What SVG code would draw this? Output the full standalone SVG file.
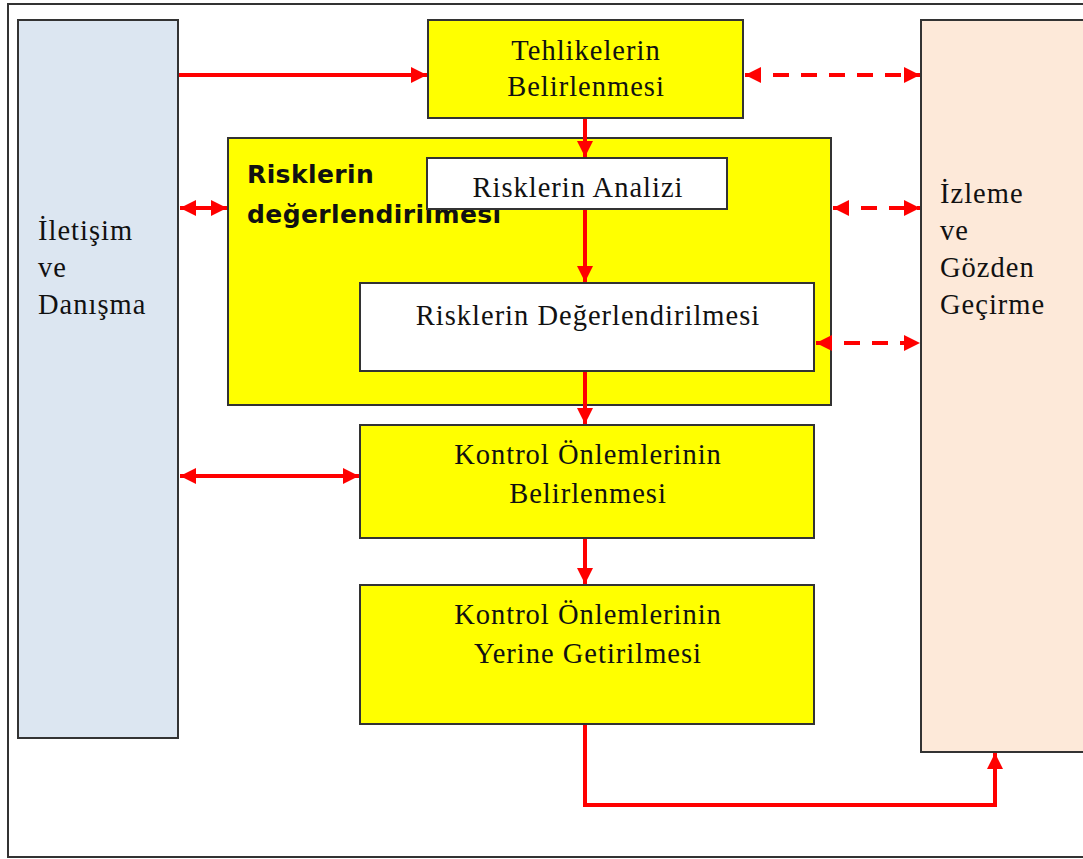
<svg xmlns="http://www.w3.org/2000/svg" width="1083" height="859" viewBox="0 0 1083 859">
<style>
.box{stroke:#333;stroke-width:2}
.y{fill:#ffff00}
.w{fill:#ffffff}
.t{font-family:"Liberation Serif",serif;font-size:28.5px;letter-spacing:1px;fill:#111}
.c{text-anchor:middle}
.h{font-family:"Comic Sans MS","DejaVu Sans",sans-serif;font-weight:bold;font-size:25px;letter-spacing:0.4px;fill:#111}
.a{stroke:#ff0000;stroke-width:4;fill:none}
.d{stroke-dasharray:16,12}
</style>
<defs>
<marker id="ah" viewBox="0 0 10 10" refX="10" refY="5" markerWidth="4" markerHeight="4" orient="auto-start-reverse" markerUnits="strokeWidth">
<path d="M0,0 L10,5 L0,10 z" fill="#ff0000"/>
</marker>
</defs>
<rect x="0" y="0" width="1083" height="859" fill="#fff"/>
<rect x="8" y="4" width="1080" height="853" fill="none" stroke="#333" stroke-width="2"/>
<g id="iletisim">
<rect class="box" x="18" y="20" width="160" height="718" fill="#dce6f1"/>
<text class="t" x="38" y="240">İletişim</text>
<text class="t" x="38" y="277">ve</text>
<text class="t" x="38" y="314">Danışma</text>
</g>
<g id="izleme">
<rect class="box" x="921" y="20" width="165" height="732" fill="#fde9d9"/>
<text class="t" x="940" y="203">İzleme</text>
<text class="t" x="940" y="240">ve</text>
<text class="t" x="940" y="277">Gözden</text>
<text class="t" x="940" y="314">Geçirme</text>
</g>
<g id="tehlike">
<rect class="box y" x="428" y="20" width="315" height="98"/>
<text class="t c" x="586" y="60">Tehlikelerin</text>
<text class="t c" x="586" y="96">Belirlenmesi</text>
</g>
<g id="degerlendirme">
<rect class="box y" x="228" y="138" width="603" height="267"/>
<text class="h" x="247" y="183">Risklerin</text>
<text class="h" x="247" y="223">değerlendirilmesi</text>
</g>
<g id="analiz">
<rect class="box w" x="427" y="158" width="300" height="51"/>
<text class="t c" x="578" y="197">Risklerin Analizi</text>
</g>
<g id="riskdeger">
<rect class="box w" x="360" y="283" width="454" height="88"/>
<text class="t c" x="588" y="325">Risklerin Değerlendirilmesi</text>
</g>
<g id="kontrol1">
<rect class="box y" x="360" y="425" width="454" height="113"/>
<text class="t c" x="588" y="464">Kontrol Önlemlerinin</text>
<text class="t c" x="588" y="503">Belirlenmesi</text>
</g>
<g id="kontrol2">
<rect class="box y" x="360" y="585" width="454" height="139"/>
<text class="t c" x="588" y="624">Kontrol Önlemlerinin</text>
<text class="t c" x="588" y="663">Yerine Getirilmesi</text>
</g>
<g id="connectors">
<line class="a" x1="179" y1="75" x2="427" y2="75" marker-end="url(#ah)"/>
<line class="a d" x1="745" y1="75" x2="920" y2="75" marker-start="url(#ah)" marker-end="url(#ah)"/>
<line class="a" x1="180" y1="208" x2="227" y2="208" marker-start="url(#ah)" marker-end="url(#ah)"/>
<line class="a d" x1="833" y1="208" x2="920" y2="208" marker-start="url(#ah)" marker-end="url(#ah)"/>
<line class="a d" x1="816" y1="343" x2="920" y2="343" marker-start="url(#ah)" marker-end="url(#ah)"/>
<line class="a" x1="180" y1="476" x2="359" y2="476" marker-start="url(#ah)" marker-end="url(#ah)"/>
<line class="a" x1="585" y1="119" x2="585" y2="157" marker-end="url(#ah)"/>
<line class="a" x1="585" y1="210" x2="585" y2="282" marker-end="url(#ah)"/>
<line class="a" x1="585" y1="372" x2="585" y2="424" marker-end="url(#ah)"/>
<line class="a" x1="585" y1="539" x2="585" y2="584" marker-end="url(#ah)"/>
<polyline class="a" points="585,725 585,805 995,805 995,753" marker-end="url(#ah)"/>
</g>
</svg>
